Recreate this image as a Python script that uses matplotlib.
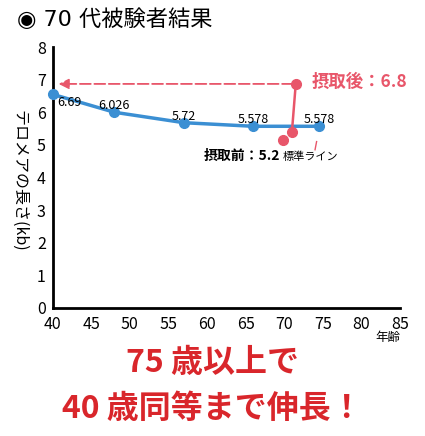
import matplotlib
matplotlib.use("Agg")
import matplotlib.pyplot as plt

plt.rcParams['font.family'] = ['Noto Sans CJK JP', 'DejaVu Sans']

ages = [40, 48, 57, 66, 74.5]
lengths = [6.55, 6.0, 5.68, 5.57, 5.57]
labels = ["6.69", "6.026", "5.72", "5.578", "5.578"]
red_x = [69.8, 71.0, 71.5]
red_y = [5.15, 5.39, 6.87]

blue = "#3b8fd3"
pink = "#e8566a"
red = "#d9262b"

fig = plt.figure(figsize=(4.25, 4.36), dpi=100)
ax = fig.add_axes([0.124, 0.294, 0.817, 0.598])
ax.set_xlim(40, 85)
ax.set_ylim(0, 8)
ax.set_xticks(range(40, 86, 5))
ax.set_yticks(range(0, 9))
ax.tick_params(length=0, labelsize=11.5)
ax.tick_params(axis="x", pad=6)
ax.tick_params(axis="y", pad=5)
for s in ["top", "right"]:
    ax.spines[s].set_visible(False)
for s in ["left", "bottom"]:
    ax.spines[s].set_linewidth(2)

ax.plot(ages, lengths, color=blue, lw=2.5, marker="o", ms=7, clip_on=False, zorder=3)
offs = [(3, -0.25, "left"), (0, 0.2, "center"), (0, 0.2, "center"), (0, 0.2, "center"), (0, 0.2, "center")]
for x, y, t, (dx, dy, ha) in zip(ages, lengths, labels, offs):
    ax.text(x + dx * 0.2, y + dy, t, fontsize=9, ha=ha, va="center")

ax.plot(red_x[1:], red_y[1:], color=pink, lw=1.8, zorder=4)
ax.plot(red_x, red_y, "o", color=pink, ms=7, lw=0, zorder=5)
ax.annotate("", xy=(40.4, red_y[2]), xytext=(red_x[2], red_y[2]),
            arrowprops=dict(arrowstyle="-|>", color=pink, lw=1.3, ls=(0, (6, 2)),
                            mutation_scale=15), zorder=4)
ax.text(73.5, red_y[2] + 0.05, "摂取後：6.8", color=pink, fontsize=12.5,
        fontweight="bold", va="center")
ax.text(69.5, 4.65, "摂取前：5.2", fontsize=10, fontweight="bold", ha="right", va="center")
ax.text(69.8, 4.62, "標準ライン", fontsize=8, ha="left", va="center")
ax.plot([74.2, 74.0], [5.1, 4.85], color=pink, lw=1)

fig.text(0.045, 0.585, "テロメアの長さ(kb)", rotation=-90, fontsize=11.5,
         ha="center", va="center")
ax.text(1.0, -0.115, "年齢", transform=ax.transAxes, fontsize=9, ha="right", va="center")

fig.text(0.04, 0.955, "◉ 70 代被験者結果", fontsize=16, ha="left", va="center",
         family=['DejaVu Sans', 'Noto Sans CJK JP'])
fig.text(0.5, 0.168, "75 歳以上で", fontsize=23, fontweight="bold", color=red,
         ha="center", va="center")
fig.text(0.5, 0.062, "40 歳同等まで伸長！", fontsize=23, fontweight="bold", color=red,
         ha="center", va="center")

fig.savefig("out.png", dpi=100)
